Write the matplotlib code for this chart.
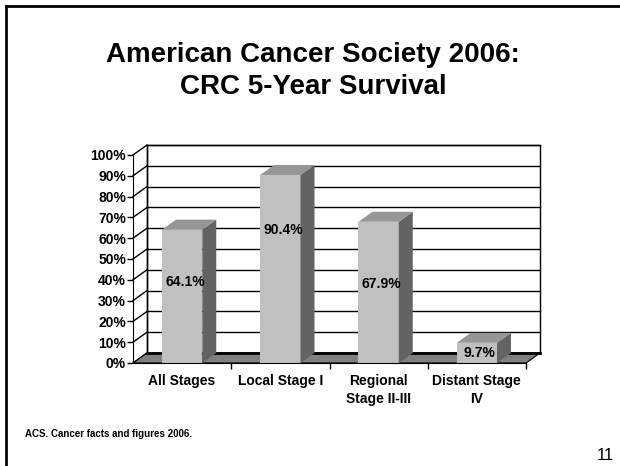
import numpy as np
import matplotlib.pyplot as plt
from matplotlib.patches import Polygon, Rectangle
from matplotlib.ticker import FuncFormatter

plt.rcParams['font.family'] = ['Liberation Sans', 'DejaVu Sans']

categories = ['All Stages', 'Local Stage I', 'Regional\nStage II-III', 'Distant Stage\nIV']
survival = [64.1, 90.4, 67.9, 9.7]
label_heights = [39, 64, 38, 4.8]   # where PowerPoint put the value labels

W, H = 620, 466
fig = plt.figure(figsize=(W / 100, H / 100), dpi=100)

# slide frame (left + top edges only)
fig.add_artist(plt.Line2D([6 / W, 6 / W], [0, 1 - 6 / H], color='black', lw=2))
fig.add_artist(plt.Line2D([6 / W, 1], [1 - 6 / H, 1 - 6 / H], color='black', lw=2))

fig.text(0.505, 1 - 71 / H, 'American Cancer Society 2006:\nCRC 5-Year Survival',
         ha='center', va='center', fontsize=20, fontweight='bold', linespacing=1.3)
fig.text(25 / W, 1 - 434 / H, 'ACS. Cancer facts and figures 2006.',
         ha='left', va='center', fontsize=7, fontweight='bold')
fig.text(597 / W, 1 - 456 / H, '11', ha='left', va='center', fontsize=12)

# front plane of the chart in pixels: x 133..526, y 155..363
x0, x1, ytop, ybot = 133, 526, 155, 363
ax = fig.add_axes([x0 / W, 1 - ybot / H, (x1 - x0) / W, (ybot - ytop) / H])
ax.set_xlim(-0.5, 3.5)
ax.set_ylim(0, 100)

# depth offset in data units (about 14 px right, 10 px up)
dx = 14 / ((x1 - x0) / 4)
dy = 10 / ((ybot - ytop) / 100)

# back wall
ax.add_patch(Rectangle((-0.5 + dx, dy), 4, 100, facecolor='white', edgecolor='black',
                       lw=1, clip_on=False, zorder=1))
for v in range(10, 101, 10):
    ax.plot([-0.5 + dx, 3.5 + dx], [v + dy, v + dy], color='black', lw=1, clip_on=False, zorder=2)
# side wall
for v in range(0, 101, 10):
    ax.plot([-0.5, -0.5 + dx], [v, v + dy], color='black', lw=1, clip_on=False, zorder=2)
ax.plot([-0.5 + dx, -0.5 + dx], [dy, 100 + dy], color='black', lw=1, clip_on=False, zorder=2)

# floor
ax.add_patch(Polygon([(-0.5, 0), (3.5, 0), (3.5 + dx, dy), (-0.5 + dx, dy)], closed=True,
                     facecolor='#808080', edgecolor='black', lw=0.8, clip_on=False, zorder=3))
ax.plot([-0.5 + dx, 3.5 + dx], [dy, dy], color='black', lw=2, clip_on=False, zorder=4)

# bars
bw = 0.41
for i, v in enumerate(survival):
    l, r = i - bw / 2, i + bw / 2
    ax.add_patch(Rectangle((l, 0), bw, v, facecolor='#c0c0c0', edgecolor='none',
                           clip_on=False, zorder=5))
    ax.add_patch(Polygon([(r, 0), (r + dx, dy), (r + dx, v + dy), (r, v)], closed=True,
                         facecolor='#636363', edgecolor='none', clip_on=False, zorder=5))
    ax.add_patch(Polygon([(l, v), (r, v), (r + dx, v + dy), (l + dx, v + dy)], closed=True,
                         facecolor='#969696', edgecolor='none', clip_on=False, zorder=5))
    ax.text(i + 0.03, label_heights[i], f'{v}%', ha='center', va='center',
            fontsize=10, fontweight='bold', zorder=6)

# axes, ticks, labels
ax.set_facecolor('none')
for s in ['top', 'right']:
    ax.spines[s].set_visible(False)
ax.spines['left'].set_zorder(7)
ax.spines['bottom'].set_zorder(7)
ax.set_yticks(range(0, 101, 10))
ax.yaxis.set_major_formatter(FuncFormatter(lambda v, p: f'{v:.0f}%'))
ax.tick_params(axis='y', direction='out', length=4, width=1, labelsize=10, pad=1)
for t in ax.get_yticklabels():
    t.set_fontweight('bold')
ax.set_xticks([0.5, 1.5, 2.5, 3.5])
ax.set_xticklabels([])
ax.set_xticks(range(4), minor=True)
ax.set_xticklabels(categories, minor=True, fontsize=10, fontweight='bold', linespacing=1.35)
ax.tick_params(axis='x', which='major', direction='out', length=4, width=1)
ax.tick_params(axis='x', which='minor', length=0, pad=8)

fig.savefig('out.png', dpi=100)
